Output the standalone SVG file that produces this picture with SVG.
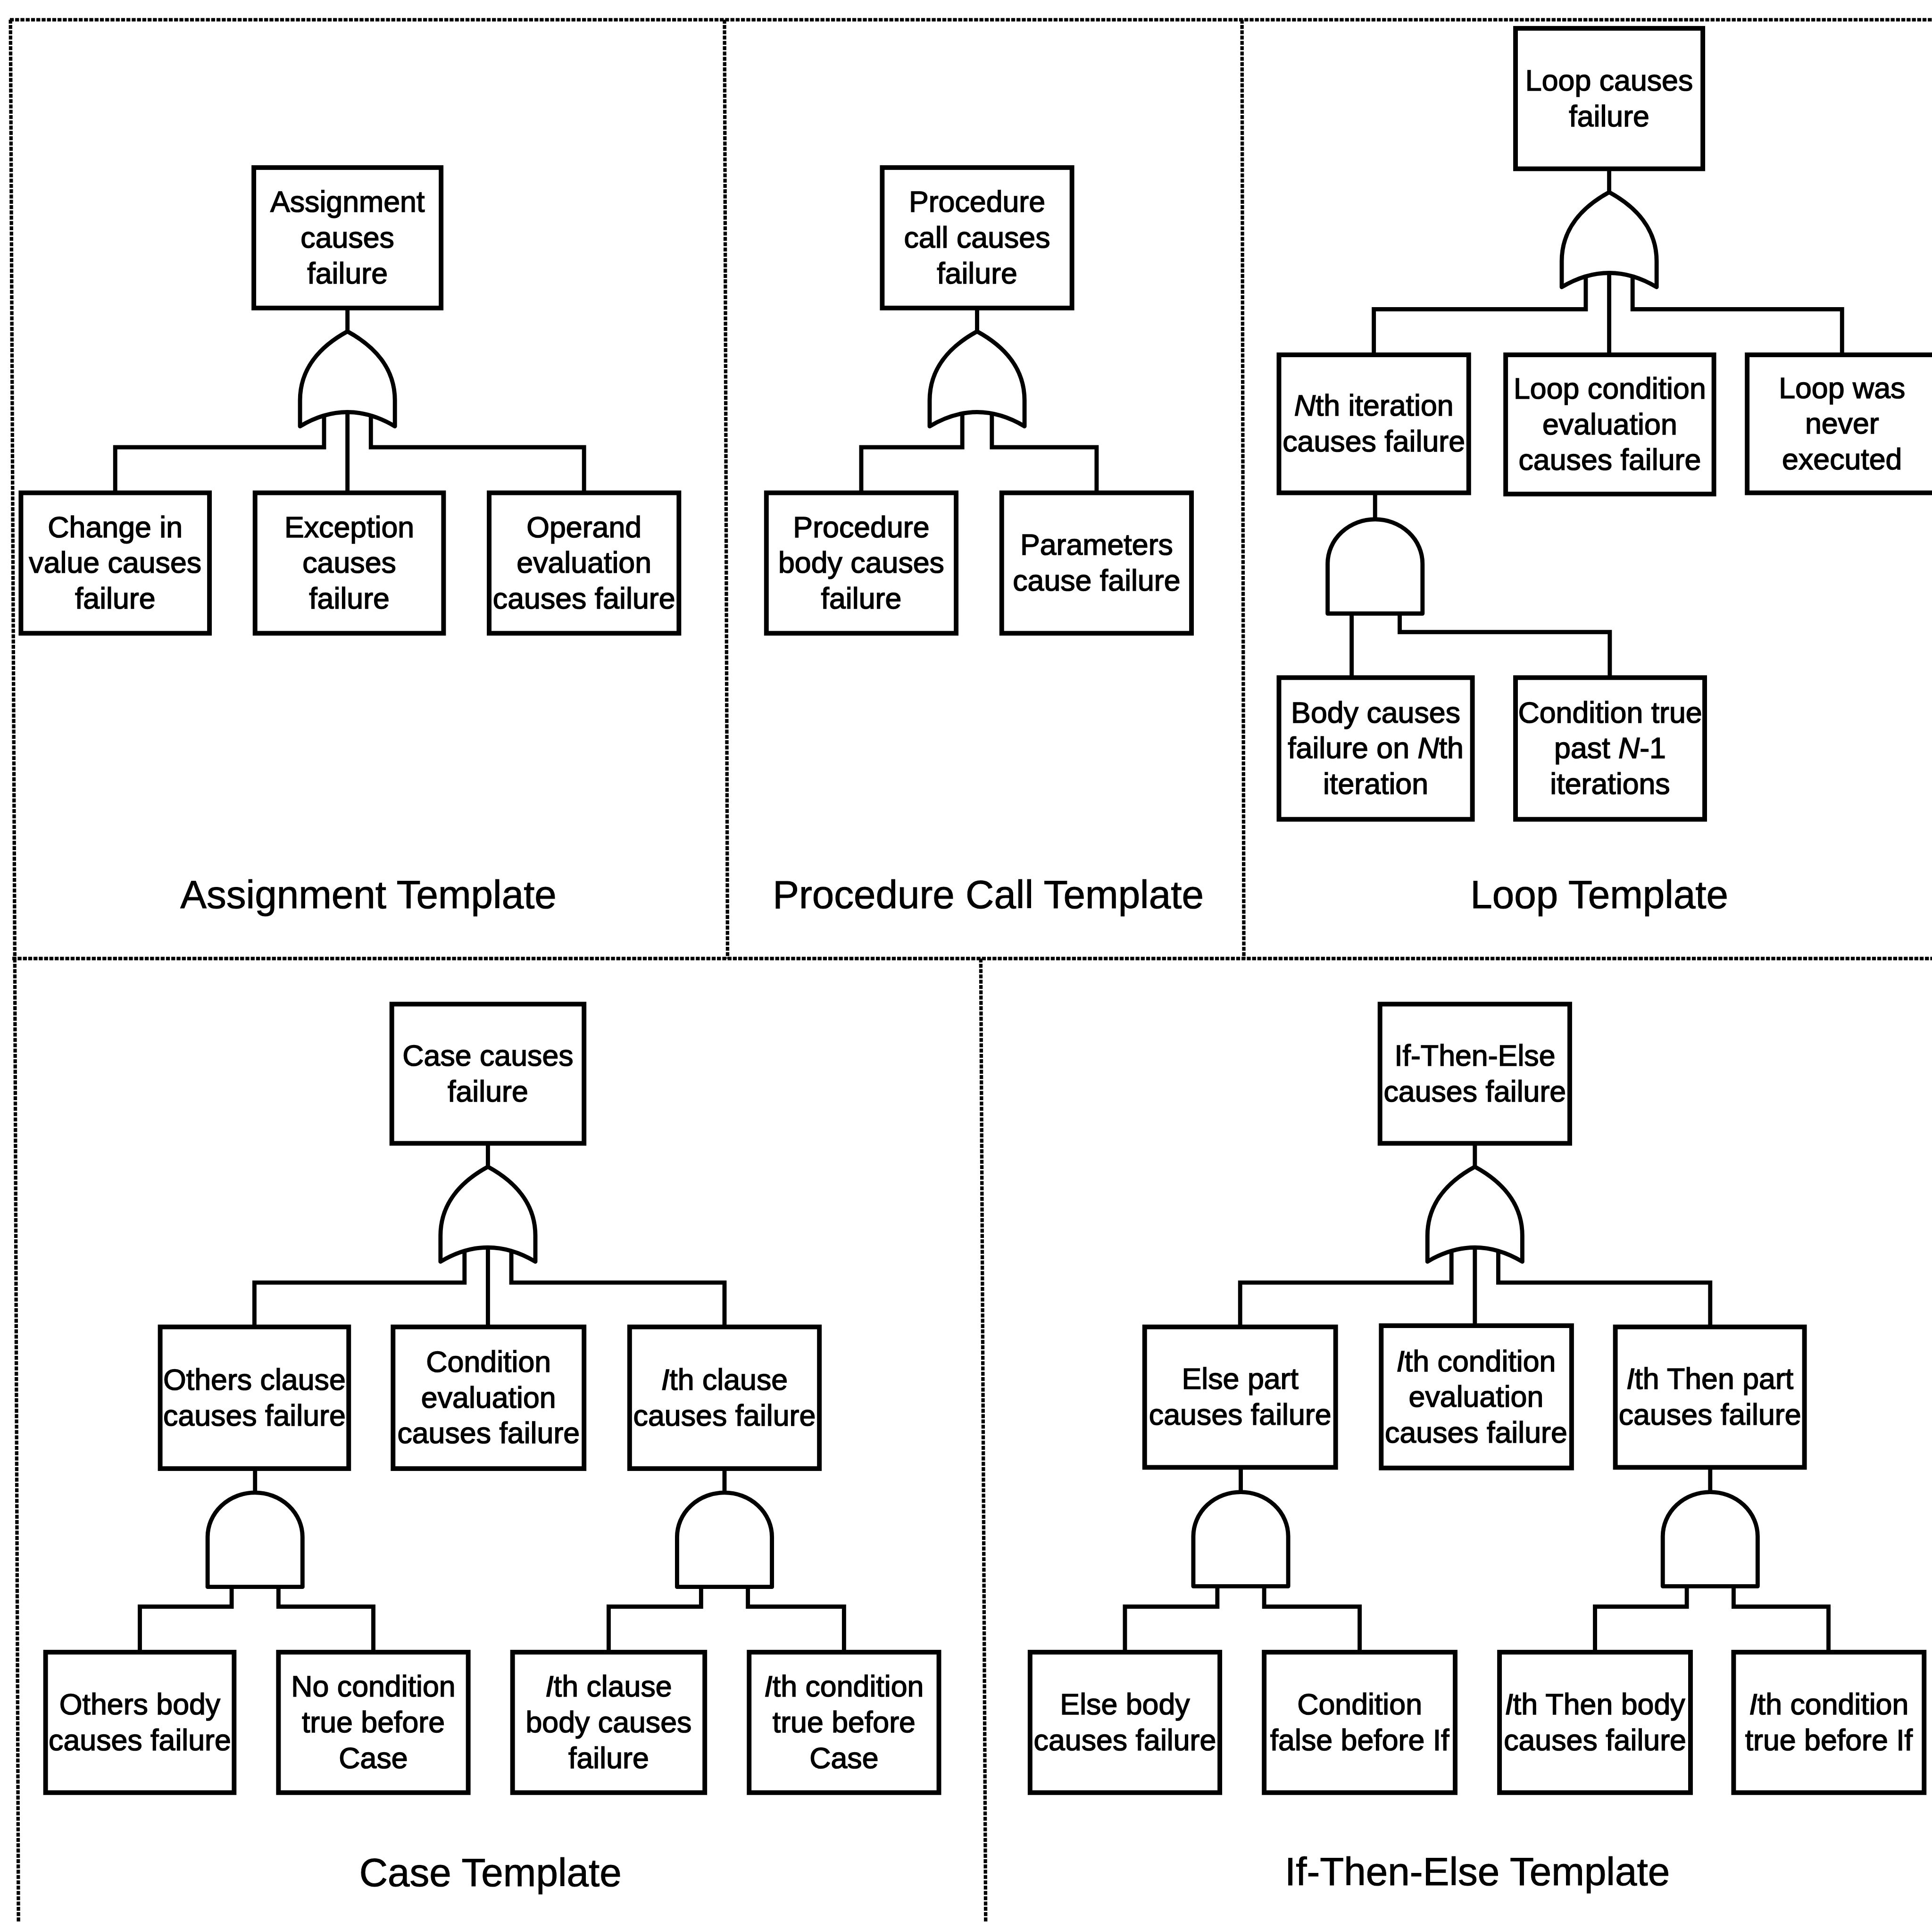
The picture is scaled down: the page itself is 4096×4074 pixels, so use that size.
<svg xmlns="http://www.w3.org/2000/svg" width="4096" height="4074" viewBox="0 0 4096 4074">
<style>
  .frame { fill: none; stroke: #000; stroke-width: 2.8; stroke-dasharray: 3.2 1.1; }
  .wire { fill: none; stroke: #000; stroke-width: 3.4; stroke-linejoin: miter; }
  .gate { fill: #fff; stroke: #000; stroke-width: 3.4; stroke-linejoin: round; }
  .box { fill: #fff; stroke: #000; stroke-width: 3.8; }
  .t { font-family: "Liberation Sans", Arial, Helvetica, sans-serif; font-size: 24px; text-anchor: middle; fill: #000; stroke: #000; stroke-width: 0.6; }
  .cap { font-family: "Liberation Sans", Arial, Helvetica, sans-serif; font-size: 32px; text-anchor: middle; fill: #000; stroke: #000; stroke-width: 0.4; }
  .it { font-style: italic; }
</style>
<defs>
  <!-- OR gate: apex at origin, base corners at (+-38.5, 77) -->
  <path id="or-gate" d="M0,0 C-22,12 -38.5,30 -38.5,56 L-38.5,77 Q0,54 38.5,77 L38.5,56 C38.5,30 22,12 0,0 Z"/>
  <!-- AND gate: top of dome at origin, flat base at y=76.5 -->
  <path id="and-gate" d="M-38.5,76.5 L-38.5,36 A38.5,36 0 0 1 38.5,36 L38.5,76.5 Z"/>
</defs>
<rect x="0" y="0" width="4096" height="4074" fill="#fff"/>
<g transform="scale(2.61224 2.61154)">

  <!-- panel frame -->
  <g id="frame">
    <path class="frame" d="M8,16 H1572"/>
    <path class="frame" d="M8.5,16 L12,778"/>
    <path class="frame" d="M12,778 L15,1564"/>
    <path class="frame" d="M10,778 H1572"/>
    <path class="frame" d="M588,16 L590.5,778"/>
    <path class="frame" d="M1008,16 L1009.5,778"/>
    <path class="frame" d="M796,778 L800,1564"/>
  </g>

  <!-- connectors -->
  <g id="connectors">
    <!-- assignment -->
    <path class="wire" d="M282,250 V270"/>
    <path class="wire" d="M263,329 V363 H93.5 V400"/>
    <path class="wire" d="M282,329 V400"/>
    <path class="wire" d="M301,329 V363 H474 V400"/>
    <!-- procedure call -->
    <path class="wire" d="M793,250 V270"/>
    <path class="wire" d="M781,329 V363 H699 V400"/>
    <path class="wire" d="M805,329 V363 H890 V400"/>
    <!-- loop -->
    <path class="wire" d="M1306,137 V157"/>
    <path class="wire" d="M1287,216 V251 H1115 V288"/>
    <path class="wire" d="M1306,216 V288"/>
    <path class="wire" d="M1325,216 V251 H1495 V288"/>
    <path class="wire" d="M1116,400 V422"/>
    <path class="wire" d="M1097,480 V550"/>
    <path class="wire" d="M1136,480 V513 H1306.5 V550"/>
    <!-- case -->
    <path class="wire" d="M396,928 V948"/>
    <path class="wire" d="M377,1007 V1041 H206.5 V1077"/>
    <path class="wire" d="M396,1007 V1077"/>
    <path class="wire" d="M415,1007 V1041 H588 V1077"/>
    <path class="wire" d="M207,1192 V1212"/>
    <path class="wire" d="M188,1270 V1304 H113.5 V1341"/>
    <path class="wire" d="M226,1270 V1304 H303 V1341"/>
    <path class="wire" d="M588,1192 V1212"/>
    <path class="wire" d="M569,1270 V1304 H494 V1341"/>
    <path class="wire" d="M607,1270 V1304 H685 V1341"/>
    <!-- if-then-else -->
    <path class="wire" d="M1197,928 V948"/>
    <path class="wire" d="M1178,1007 V1041 H1006.5 V1077"/>
    <path class="wire" d="M1197,1007 V1077"/>
    <path class="wire" d="M1216,1007 V1041 H1388 V1077"/>
    <path class="wire" d="M1007,1191 V1211"/>
    <path class="wire" d="M988,1270 V1304 H913 V1341"/>
    <path class="wire" d="M1026,1270 V1304 H1103.5 V1341"/>
    <path class="wire" d="M1388,1191 V1211"/>
    <path class="wire" d="M1369,1270 V1304 H1294.5 V1341"/>
    <path class="wire" d="M1407,1270 V1304 H1484 V1341"/>
  </g>

  <!-- gates -->
  <g id="gate-assignment-or"><use href="#or-gate" class="gate" transform="translate(282,269)"/></g>
  <g id="gate-procedure-or"><use href="#or-gate" class="gate" transform="translate(793,269)"/></g>
  <g id="gate-loop-or"><use href="#or-gate" class="gate" transform="translate(1306,156)"/></g>
  <g id="gate-loop-and"><use href="#and-gate" class="gate" transform="translate(1116,421.5)"/></g>
  <g id="gate-case-or"><use href="#or-gate" class="gate" transform="translate(396,947)"/></g>
  <g id="gate-case-others-and"><use href="#and-gate" class="gate" transform="translate(207,1211.5)"/></g>
  <g id="gate-case-ith-and"><use href="#and-gate" class="gate" transform="translate(588,1211.5)"/></g>
  <g id="gate-ite-or"><use href="#or-gate" class="gate" transform="translate(1197,947)"/></g>
  <g id="gate-ite-else-and"><use href="#and-gate" class="gate" transform="translate(1007,1211)"/></g>
  <g id="gate-ite-then-and"><use href="#and-gate" class="gate" transform="translate(1388,1211)"/></g>

  <!-- ===== Assignment template ===== -->
  <g id="assign-top">
    <rect class="box" x="206" y="136" width="152" height="114"/>
    <text class="t"><tspan x="282" y="172">Assignment</tspan><tspan x="282" y="201">causes</tspan><tspan x="282" y="230">failure</tspan></text>
  </g>
  <g id="assign-change">
    <rect class="box" x="17" y="400" width="153" height="114"/>
    <text class="t"><tspan x="93.5" y="436">Change in</tspan><tspan x="93.5" y="465">value causes</tspan><tspan x="93.5" y="494">failure</tspan></text>
  </g>
  <g id="assign-exception">
    <rect class="box" x="207" y="400" width="153" height="114"/>
    <text class="t"><tspan x="283.5" y="436">Exception</tspan><tspan x="283.5" y="465">causes</tspan><tspan x="283.5" y="494">failure</tspan></text>
  </g>
  <g id="assign-operand">
    <rect class="box" x="397" y="400" width="154" height="114"/>
    <text class="t"><tspan x="474" y="436">Operand</tspan><tspan x="474" y="465">evaluation</tspan><tspan x="474" y="494">causes failure</tspan></text>
  </g>
  <text id="assign-caption" class="cap" x="299" y="737">Assignment Template</text>

  <!-- ===== Procedure call template ===== -->
  <g id="proc-top">
    <rect class="box" x="716" y="136" width="154" height="114"/>
    <text class="t"><tspan x="793" y="172">Procedure</tspan><tspan x="793" y="201">call causes</tspan><tspan x="793" y="230">failure</tspan></text>
  </g>
  <g id="proc-body">
    <rect class="box" x="622" y="400" width="154" height="114"/>
    <text class="t"><tspan x="699" y="436">Procedure</tspan><tspan x="699" y="465">body causes</tspan><tspan x="699" y="494">failure</tspan></text>
  </g>
  <g id="proc-params">
    <rect class="box" x="813" y="400" width="154" height="114"/>
    <text class="t"><tspan x="890" y="450.5">Parameters</tspan><tspan x="890" y="479.5">cause failure</tspan></text>
  </g>
  <text id="proc-caption" class="cap" x="802" y="737">Procedure Call Template</text>

  <!-- ===== Loop template ===== -->
  <g id="loop-top">
    <rect class="box" x="1230" y="23" width="152" height="114"/>
    <text class="t"><tspan x="1306" y="73.5">Loop causes</tspan><tspan x="1306" y="102.5">failure</tspan></text>
  </g>
  <g id="loop-nth">
    <rect class="box" x="1038" y="288" width="154" height="112"/>
    <text class="t"><tspan x="1115" y="337.5"><tspan class="it">N</tspan>th iteration</tspan><tspan x="1115" y="366.5">causes failure</tspan></text>
  </g>
  <g id="loop-cond">
    <rect class="box" x="1222" y="288" width="169" height="113"/>
    <text class="t"><tspan x="1306.5" y="323.5">Loop condition</tspan><tspan x="1306.5" y="352.5">evaluation</tspan><tspan x="1306.5" y="381.5">causes failure</tspan></text>
  </g>
  <g id="loop-never">
    <rect class="box" x="1418" y="288" width="156" height="112"/>
    <text class="t"><tspan x="1495" y="323">Loop was</tspan><tspan x="1495" y="352">never</tspan><tspan x="1495" y="381">executed</tspan></text>
  </g>
  <g id="loop-body">
    <rect class="box" x="1038" y="550" width="157" height="115"/>
    <text class="t"><tspan x="1116.5" y="586.5">Body causes</tspan><tspan x="1116.5" y="615.5">failure on <tspan class="it">N</tspan>th</tspan><tspan x="1116.5" y="644.5">iteration</tspan></text>
  </g>
  <g id="loop-past">
    <rect class="box" x="1230" y="550" width="153.5" height="115"/>
    <text class="t"><tspan x="1306.75" y="586.5">Condition true</tspan><tspan x="1306.75" y="615.5">past <tspan class="it">N</tspan>-1</tspan><tspan x="1306.75" y="644.5">iterations</tspan></text>
  </g>
  <text id="loop-caption" class="cap" x="1298" y="737">Loop Template</text>

  <!-- ===== Case template ===== -->
  <g id="case-top">
    <rect class="box" x="318" y="815" width="156" height="113"/>
    <text class="t"><tspan x="396" y="865">Case causes</tspan><tspan x="396" y="894">failure</tspan></text>
  </g>
  <g id="case-others">
    <rect class="box" x="130" y="1077" width="153" height="115"/>
    <text class="t"><tspan x="206.5" y="1128">Others clause</tspan><tspan x="206.5" y="1157">causes failure</tspan></text>
  </g>
  <g id="case-cond">
    <rect class="box" x="319" y="1077" width="155" height="115"/>
    <text class="t"><tspan x="396.5" y="1113.5">Condition</tspan><tspan x="396.5" y="1142.5">evaluation</tspan><tspan x="396.5" y="1171.5">causes failure</tspan></text>
  </g>
  <g id="case-ith">
    <rect class="box" x="511" y="1077" width="154" height="115"/>
    <text class="t"><tspan x="588" y="1128"><tspan class="it">I</tspan>th clause</tspan><tspan x="588" y="1157">causes failure</tspan></text>
  </g>
  <g id="case-others-body">
    <rect class="box" x="37" y="1341" width="153" height="114"/>
    <text class="t"><tspan x="113.5" y="1391.5">Others body</tspan><tspan x="113.5" y="1420.5">causes failure</tspan></text>
  </g>
  <g id="case-no-cond">
    <rect class="box" x="226" y="1341" width="154" height="114"/>
    <text class="t"><tspan x="303" y="1377">No condition</tspan><tspan x="303" y="1406">true before</tspan><tspan x="303" y="1435">Case</tspan></text>
  </g>
  <g id="case-ith-body">
    <rect class="box" x="416" y="1341" width="156" height="114"/>
    <text class="t"><tspan x="494" y="1377"><tspan class="it">I</tspan>th clause</tspan><tspan x="494" y="1406">body causes</tspan><tspan x="494" y="1435">failure</tspan></text>
  </g>
  <g id="case-ith-cond">
    <rect class="box" x="608" y="1341" width="154" height="114"/>
    <text class="t"><tspan x="685" y="1377"><tspan class="it">I</tspan>th condition</tspan><tspan x="685" y="1406">true before</tspan><tspan x="685" y="1435">Case</tspan></text>
  </g>
  <text id="case-caption" class="cap" x="398" y="1531">Case Template</text>

  <!-- ===== If-Then-Else template ===== -->
  <g id="ite-top">
    <rect class="box" x="1120" y="815" width="154" height="113"/>
    <text class="t"><tspan x="1197" y="865">If-Then-Else</tspan><tspan x="1197" y="894">causes failure</tspan></text>
  </g>
  <g id="ite-else">
    <rect class="box" x="929" y="1077" width="155" height="114"/>
    <text class="t"><tspan x="1006.5" y="1127.5">Else part</tspan><tspan x="1006.5" y="1156.5">causes failure</tspan></text>
  </g>
  <g id="ite-cond">
    <rect class="box" x="1121" y="1076" width="154.5" height="115.5"/>
    <text class="t"><tspan x="1198" y="1113"><tspan class="it">I</tspan>th condition</tspan><tspan x="1198" y="1142">evaluation</tspan><tspan x="1198" y="1171">causes failure</tspan></text>
  </g>
  <g id="ite-then">
    <rect class="box" x="1311" y="1077" width="153.5" height="114"/>
    <text class="t"><tspan x="1387.75" y="1127.5"><tspan class="it">I</tspan>th Then part</tspan><tspan x="1387.75" y="1156.5">causes failure</tspan></text>
  </g>
  <g id="ite-else-body">
    <rect class="box" x="836" y="1341" width="154" height="114"/>
    <text class="t"><tspan x="913" y="1391.5">Else body</tspan><tspan x="913" y="1420.5">causes failure</tspan></text>
  </g>
  <g id="ite-false">
    <rect class="box" x="1026" y="1341" width="155" height="114"/>
    <text class="t"><tspan x="1103.5" y="1391.5">Condition</tspan><tspan x="1103.5" y="1420.5">false before If</tspan></text>
  </g>
  <g id="ite-then-body">
    <rect class="box" x="1217" y="1341" width="155" height="114"/>
    <text class="t"><tspan x="1294.5" y="1391.5"><tspan class="it">I</tspan>th Then body</tspan><tspan x="1294.5" y="1420.5">causes failure</tspan></text>
  </g>
  <g id="ite-true">
    <rect class="box" x="1407" y="1341" width="154.6" height="114"/>
    <text class="t"><tspan x="1484.3" y="1391.5"><tspan class="it">I</tspan>th condition</tspan><tspan x="1484.3" y="1420.5">true before If</tspan></text>
  </g>
  <text id="ite-caption" class="cap" x="1199" y="1530">If-Then-Else Template</text>

</g>
</svg>
